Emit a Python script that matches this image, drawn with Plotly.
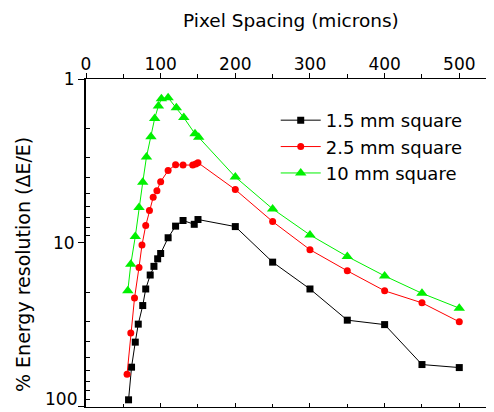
import plotly.graph_objects as go
import math

# 1.5 mm square
x_15 = [57, 61, 66, 70, 76, 80, 86, 91, 96, 100, 110, 120, 130, 145, 150, 200, 250, 300, 350, 400, 450, 500]
y_15 = [90.6, 57.3, 40.3, 31.3, 24.1, 19.1, 15.7, 13.9, 12.5, 11.6, 9.3, 7.9, 7.3, 7.7, 7.2, 7.95, 13.1, 19.1, 29.6, 31.5, 55.2, 57.6]
# 2.5 mm square
x_25 = [55, 60, 65, 71, 75, 80, 85, 90, 95, 100, 110, 120, 130, 143, 147, 150, 200, 250, 300, 350, 400, 450, 500]
y_25 = [63.2, 35.4, 21.7, 14.1, 10.3, 7.84, 6.35, 5.27, 4.8, 4.23, 3.62, 3.33, 3.35, 3.35, 3.3, 3.24, 4.73, 7.41, 11.0, 14.8, 19.6, 23.2, 30.3]
# 10 mm square
x_10 = [56, 60, 66, 71, 76, 81, 87, 92, 97, 101, 110, 121, 131, 146, 151, 200, 250, 300, 350, 400, 450, 500]
y_10 = [19.6, 13.5, 9.15, 6.09, 4.27, 2.99, 2.25, 1.74, 1.46, 1.32, 1.30, 1.50, 1.72, 2.16, 2.27, 3.96, 6.2, 8.94, 12.1, 15.9, 20.3, 25.0]

series_names = ["1.5 mm square", "2.5 mm square", "10 mm square"]
x_ticks = [0, 100, 200, 300, 400, 500]
y_ticks = [1, 10, 100]
y_tick_labels = ["1", "10", "100"]
y_minor = [2, 3, 4, 5, 6, 7, 8, 9, 20, 30, 40, 50, 60, 70, 80, 90]

FONT = "DejaVu Sans"

fig = go.Figure()
fig.add_trace(go.Scatter(x=x_15, y=y_15, name=series_names[0], mode="lines+markers",
                         line=dict(color="#000000", width=1),
                         marker=dict(symbol="square", size=7, color="#000000")))
fig.add_trace(go.Scatter(x=x_25, y=y_25, name=series_names[1], mode="lines+markers",
                         line=dict(color="#ff0000", width=1),
                         marker=dict(symbol="circle", size=7, color="#ff0000")))
fig.add_trace(go.Scatter(x=x_10, y=y_10, name=series_names[2], mode="lines+markers",
                         line=dict(color="#00f000", width=1),
                         marker=dict(symbol="triangle-up", size=10, color="#00f000")))

# invisible trace for the mirrored axes (bottom and right)
fig.add_trace(go.Scatter(x=[x_ticks[0]], y=[y_ticks[0]], xaxis="x2", yaxis="y2",
                         mode="markers", marker=dict(opacity=0), showlegend=False,
                         hoverinfo="skip"))

xrange = [0, 546.5]
yrange = [2.001, 0]

# the last y tick label sits at the bottom edge; draw it as an annotation nudged up
tick_text_axis = y_tick_labels[:-1] + [""]

# page body has an 8px margin, so the figure is sized to the visible window area
fig.update_layout(
    width=486, height=404,
    margin=dict(l=78, r=0, t=71, b=5, autoexpand=False),
    paper_bgcolor="white", plot_bgcolor="white",
    font=dict(family=FONT, size=16, color="#000000"),
    showlegend=True,
    legend=dict(x=0.465, y=0.93, xanchor="left", yanchor="top",
                bgcolor="rgba(0,0,0,0)", font=dict(size=18, family=FONT),
                itemwidth=40),
    xaxis=dict(side="top", range=xrange, tickvals=x_ticks, ticks="outside", ticklen=5,
               tickcolor="#000", showline=True, linecolor="#000", linewidth=1,
               showgrid=False, zeroline=False, automargin=False,
               ticklabelstandoff=-4,
               tickfont=dict(size=17, family=FONT),
               minor=dict(ticks="outside", ticklen=4, dtick=50, tick0=0, tickcolor="#000", showgrid=False)),
    xaxis2=dict(overlaying="x", side="bottom", range=xrange, tickvals=x_ticks, ticks="inside",
                ticklen=4, tickcolor="#000", showline=True, linecolor="#000", linewidth=1,
                showticklabels=False, showgrid=False, zeroline=False, automargin=False,
                minor=dict(ticks="inside", ticklen=3, dtick=50, tick0=0, tickcolor="#000", showgrid=False)),
    yaxis=dict(type="log", range=yrange, tickvals=y_ticks, ticktext=tick_text_axis,
               ticks="outside", ticklen=6, tickcolor="#000", showline=True, linecolor="#000",
               linewidth=2, showgrid=False, zeroline=False, automargin=False,
               ticklabeloverflow="allow",
               tickfont=dict(size=17, family=FONT),
               minor=dict(ticks="inside", ticklen=4, tickvals=y_minor, tickcolor="#000", showgrid=False)),
    yaxis2=dict(type="log", overlaying="y", side="right", range=yrange, tickvals=y_ticks,
                ticks="inside", ticklen=5, tickcolor="#000", showline=False, automargin=False,
                showticklabels=False, showgrid=False, zeroline=False,
                minor=dict(ticks="inside", ticklen=3, tickvals=y_minor, tickcolor="#888", showgrid=False)),
    annotations=[
        dict(text="Pixel Spacing (microns)", xref="paper", yref="paper",
             x=0.5025, y=1.177, xanchor="center", yanchor="middle", showarrow=False,
             font=dict(size=18.5, family=FONT, color="#000")),
        dict(text="% Energy resolution (\u0394E/E)", xref="paper", yref="paper",
             x=-0.1544, y=0.433, xanchor="center", yanchor="middle", showarrow=False,
             textangle=-90, font=dict(size=19, family=FONT, color="#000")),
        dict(text=y_tick_labels[-1], xref="paper", yref="y", x=0, y=math.log10(y_ticks[-1]),
             xanchor="right", yanchor="bottom", xshift=-8, yshift=-3, showarrow=False,
             borderpad=0, font=dict(size=17, family=FONT, color="#000")),
    ],
)

fig.write_html("out.html")
